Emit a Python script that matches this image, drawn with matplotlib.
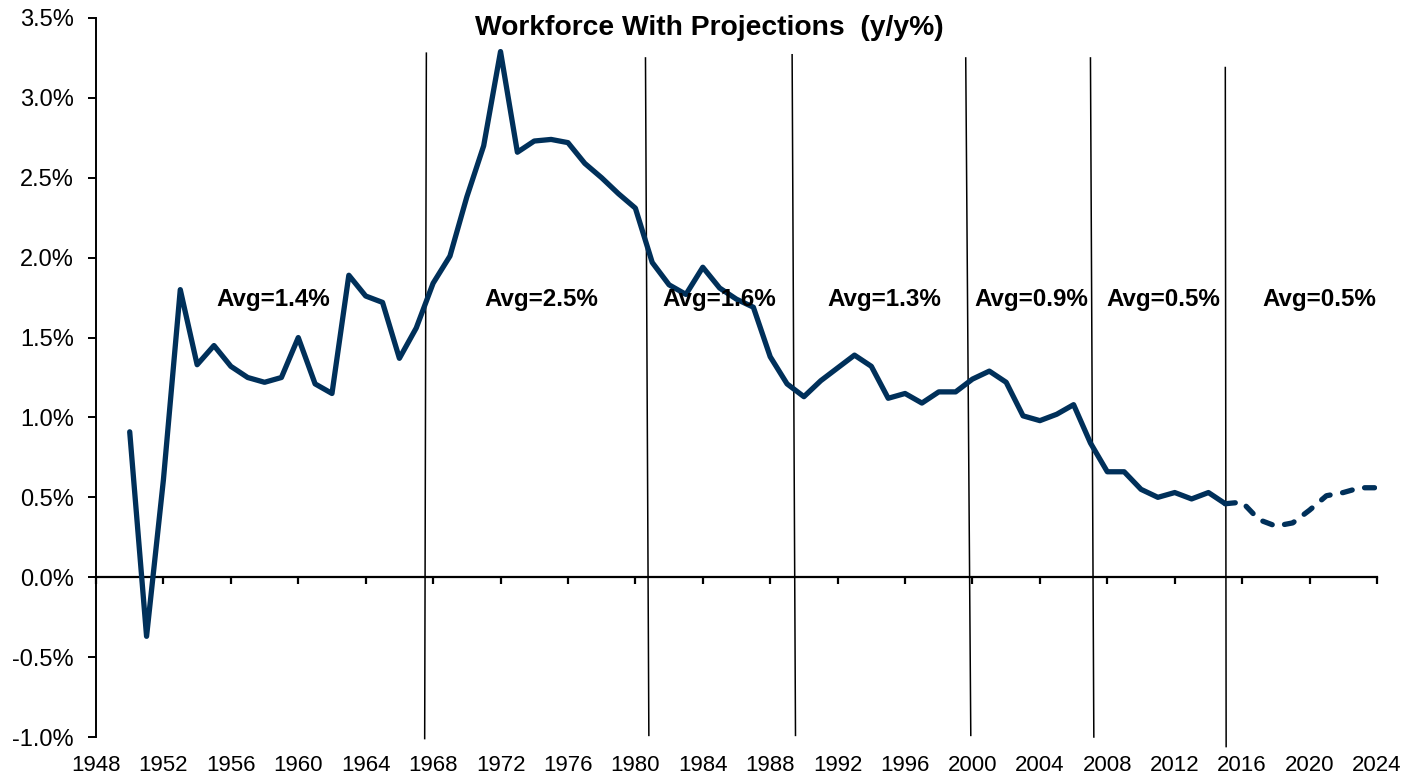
import matplotlib
matplotlib.use("Agg")
import matplotlib.pyplot as plt

plt.rcParams['font.family'] = ['Liberation Sans', 'DejaVu Sans']

# Historical workforce growth (y/y %)
hist_years = list(range(1950, 2016))
hist_values = [0.91, -0.37, 0.61, 1.80, 1.33, 1.45, 1.32, 1.25, 1.22, 1.25,
               1.50, 1.21, 1.15, 1.89, 1.76, 1.72, 1.37, 1.56, 1.84, 2.01,
               2.38, 2.70, 3.29, 2.66, 2.73, 2.74, 2.72, 2.59, 2.50, 2.40,
               2.31, 1.97, 1.83, 1.77, 1.94, 1.81, 1.74, 1.69, 1.38, 1.21,
               1.13, 1.23, 1.31, 1.39, 1.32, 1.12, 1.15, 1.09, 1.16, 1.16,
               1.24, 1.29, 1.22, 1.01, 0.98, 1.02, 1.08, 0.84, 0.66, 0.66,
               0.55, 0.50, 0.53, 0.49, 0.53, 0.46]

# Projections
proj_years = list(range(2015, 2025))
proj_values = [0.46, 0.47, 0.36, 0.32, 0.34, 0.42, 0.51, 0.53, 0.56, 0.56]

# Period dividers (year at top, year at bottom, value at top, value at bottom)
divider_top = [1967.6, 1980.6, 1989.3, 1999.6, 2007.0, 2015.0]
divider_bot = [1967.5, 1980.8, 1989.5, 1999.9, 2007.2, 2015.05]
divider_ytop = [3.28, 3.25, 3.27, 3.25, 3.25, 3.19]
divider_ybot = [-1.01, -0.99, -0.99, -0.99, -1.0, -1.06]

avg_labels = ["Avg=1.4%", "Avg=2.5%", "Avg=1.6%", "Avg=1.3%",
              "Avg=0.9%", "Avg=0.5%", "Avg=0.5%"]
avg_x = [1958.5, 1974.4, 1985.0, 1994.8, 2003.5, 2011.3, 2020.6]
avg_y = 1.74

title = "Workforce With Projections  (y/y%)"
x_ticks = list(range(1948, 2025, 4))
y_ticks = [-1.0, -0.5, 0.0, 0.5, 1.0, 1.5, 2.0, 2.5, 3.0, 3.5]

navy = '#00305A'

fig = plt.figure(figsize=(14.08, 7.78), dpi=100)
ax = fig.add_axes([96/1408, 1-737/778, (1377-96)/1408, (737-18)/778])

ax.plot(hist_years, hist_values, color=navy, lw=3.8, solid_joinstyle='round',
        solid_capstyle='round', zorder=3)
ln, = ax.plot(proj_years, proj_values, color=navy, lw=3.8, zorder=3,
              dash_capstyle='round', dash_joinstyle='round')
ln.set_dashes([1.9, 2.4])

for xt, xb, yt, yb in zip(divider_top, divider_bot, divider_ytop, divider_ybot):
    ax.plot([xt, xb], [yt, yb], color='black', lw=1.1, zorder=2, clip_on=False)

for lab, xx in zip(avg_labels, avg_x):
    ax.text(xx, avg_y, lab, ha='center', va='center', fontsize=17.4,
            fontweight='bold', zorder=4)

ax.set_xlim(1948, 2024)
ax.set_ylim(-1.0, 3.5)

ax.spines['top'].set_visible(False)
ax.spines['right'].set_visible(False)
ax.spines['left'].set_linewidth(1.4)
ax.spines['bottom'].set_position(('data', 0))
ax.spines['bottom'].set_linewidth(1.6)

ax.set_yticks(y_ticks)
ax.set_yticklabels([f"{v:.1f}%" for v in y_ticks])
ax.tick_params(axis='y', direction='out', length=6, width=1.4, pad=10,
               labelsize=17, colors='black')

ax.set_xticks(x_ticks)
ax.tick_params(axis='x', direction='out', length=5, width=1.6,
               labelbottom=False)

sec = ax.secondary_xaxis('bottom')
sec.set_xticks(x_ticks)
sec.set_xticklabels([str(t) for t in x_ticks])
sec.tick_params(axis='x', length=0, pad=13, labelsize=16)
for s in sec.spines.values():
    s.set_visible(False)

fig.text(709/1408, 1-28/778, title, ha='center', va='center', fontsize=20.3,
         fontweight='bold')

fig.savefig('out.png', dpi=100)
